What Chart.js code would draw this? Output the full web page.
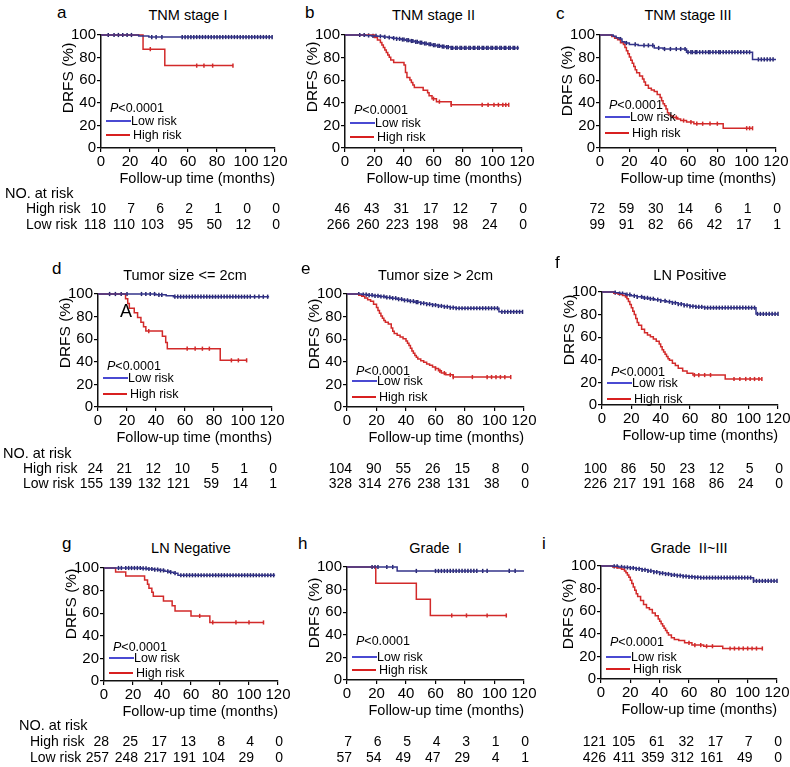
<!DOCTYPE html>
<html>
<head>
<meta charset="utf-8">
<script src="https://cdn.jsdelivr.net/npm/chart.js@4.4.0/dist/chart.umd.min.js"></script>
<style>
  body { margin: 0; background: #fff; }
  #fig { position: relative; width: 790px; height: 767px; overflow: hidden; font-family: 'Liberation Sans', Arial, Helvetica, sans-serif; color: #000; }
  #fig canvas { position: absolute; }
  .t { position: absolute; white-space: pre; line-height: 1; }
  .ln { position: absolute; height: 1.3px; }
</style>
</head>
<body>
<div id="fig"></div>
<script>
const xTicks = [0, 20, 40, 60, 80, 100, 120];
const yTicks = [0, 20, 40, 60, 80, 100];
const panelLetters = ['a', 'b', 'c', 'd', 'e', 'f', 'g', 'h', 'i'];
const panelTitles = ['TNM stage I', 'TNM stage II', 'TNM stage III', 'Tumor size <= 2cm', 'Tumor size > 2cm',
  'LN Positive', 'LN Negative', 'Grade  I', 'Grade  II~III'];

// a: TNM stage I
const aLowT = [0, 26, 33, 118];
const aLowS = [100, 99.2, 98.2, 98.2];
const aLowC = [5, 9, 12, 15, 18, 21, 35, 38, 42, 56, 58, 60, 62, 64, 66, 68, 70, 72, 74, 76, 78, 80, 82, 84, 86, 88, 90, 92, 94, 96, 98, 100, 102, 104, 106, 108, 110, 112, 114, 116, 118];
const aHighT = [0, 29, 44, 91];
const aHighS = [100, 87.5, 72.9, 72.9];
const aHighC = [34, 66, 71, 77, 91];
const aRiskHigh = [10, 7, 6, 2, 1, 0, 0];
const aRiskLow = [118, 110, 103, 95, 50, 12, 0];

// b: TNM stage II
const bLowT = [0, 14, 18, 22, 26, 29, 32, 35, 38, 41, 44, 47, 50, 53, 56, 59, 62, 65, 68, 72, 118];
const bLowS = [100, 99.6, 99.2, 98.8, 98.3, 97.8, 97.2, 96.6, 96, 95.4, 94.7, 94, 93.2, 92.5, 91.8, 91, 90.4, 89.8, 89.3, 88.6, 88.6];
const bLowC = [10, 13, 16, 19, 21, 24, 27, 30, 33, 35, 37, 39, 40, 42, 43, 45, 46, 48, 49, 51, 52, 54, 55, 57, 58, 60, 61, 63, 64, 66, 67, 69, 70, 72, 73, 75, 76, 78, 79, 81, 82, 84, 85, 87, 88, 90, 91, 93, 94, 96, 97, 99, 100, 102, 103, 105, 106, 108, 109, 111, 112, 114, 115, 117];
const bHighT = [0, 20, 22, 24, 25, 26, 27, 28, 29, 30, 31, 33, 40, 41, 42, 44, 45, 46, 47, 53, 56, 57, 59, 62, 72, 111];
const bHighS = [100, 97.8, 95.6, 93.4, 91.2, 89, 86.8, 84.6, 82.4, 80.2, 77.9, 75.7, 73.4, 66.8, 62.4, 60.2, 58, 55.8, 53.5, 51.2, 48.8, 46.3, 43.6, 41, 38.2, 38.2];
const bHighC = [60, 64, 72, 93, 97, 101, 104, 107, 109, 111];
const bRiskHigh = [46, 43, 31, 17, 12, 7, 0];
const bRiskLow = [266, 260, 223, 198, 98, 24, 0];

// c: TNM stage III
const cLowT = [0, 9, 11, 13, 15, 17, 20, 26, 37, 43, 59, 104, 120];
const cLowS = [100, 98.8, 97.6, 96.4, 94, 92.9, 91.7, 90.8, 88.5, 87.6, 84.8, 78.4, 78.4];
const cLowC = [14, 18, 24, 30, 33, 36, 40, 44, 48, 52, 55, 58, 60, 62, 63, 65, 66, 68, 70, 72, 74, 75, 77, 79, 81, 82, 84, 86, 88, 90, 92, 94, 96, 98, 100, 102, 108, 110, 112, 114, 116, 118];
const cHighT = [0, 8, 10, 12, 14, 16, 17, 18, 19, 20, 21, 22, 23, 24, 25, 27, 29, 30, 31, 33, 35, 37, 39, 41, 42, 43, 44, 45, 46, 47, 48, 50, 53, 55, 59, 64, 84, 104];
const cHighS = [100, 98.6, 97.2, 95.8, 93.1, 91.7, 88.9, 86.1, 83.3, 80.5, 77.7, 74.9, 72.1, 69.3, 66.5, 63.8, 61, 58.3, 55.5, 52.8, 51.4, 50, 47.3, 44.6, 41.9, 39.2, 37.5, 34.5, 31.1, 29.7, 28.4, 27, 25.6, 24.3, 22.9, 21.5, 17.5, 17.5];
const cHighC = [52, 57, 62, 66, 70, 75, 80, 100, 102, 104];
const cRiskHigh = [72, 59, 30, 14, 6, 1, 0];
const cRiskLow = [99, 91, 82, 66, 42, 17, 1];

// d: Tumor size <= 2cm
const dLowT = [0, 40, 47, 52, 118];
const dLowS = [100, 99.3, 98.4, 97.6, 97.6];
const dLowC = [8, 12, 16, 20, 30, 33, 36, 39, 42, 44, 53, 55, 57, 59, 61, 63, 65, 67, 69, 71, 73, 75, 77, 79, 81, 83, 85, 87, 89, 91, 93, 95, 97, 99, 101, 103, 105, 108, 111, 114, 117];
const dHighT = [0, 19, 20.5, 21.6, 25, 27.3, 29.6, 31.4, 33, 44.4, 46.7, 47.8, 84.3, 102.5];
const dHighS = [100, 95.8, 91.7, 87.5, 83.3, 79.2, 75, 71, 67.2, 62.7, 57.1, 51.6, 41.3, 41.3];
const dHighC = [35, 61.5, 67, 72, 76.8, 92, 96.8, 102.5];
const dRiskHigh = [24, 21, 12, 10, 5, 1, 0];
const dRiskLow = [155, 139, 132, 121, 59, 14, 1];

// e: Tumor size > 2cm
const eLowT = [0, 10, 14, 18, 22, 26, 30, 34, 38, 42, 46, 50, 54, 58, 62, 66, 70, 74, 103, 119];
const eLowS = [100, 99.5, 99, 98.4, 97.8, 97, 96.3, 95.4, 94.4, 93.6, 92.8, 91.8, 91, 90.2, 89.4, 88.7, 88, 87.4, 84.2, 84.2];
const eLowC = [8, 11, 13, 15, 17, 19, 21, 23, 25, 27, 29, 31, 33, 35, 37, 39, 41, 43, 45, 47, 48, 50, 52, 54, 56, 58, 60, 62, 64, 66, 68, 70, 72, 74, 76, 78, 80, 82, 84, 86, 88, 90, 92, 94, 96, 98, 100, 102, 105, 107, 109, 111, 113, 115, 117, 119];
const eHighT = [0, 8, 10, 12, 14, 16, 18, 20, 21, 22, 23, 24, 25, 26, 28, 30, 31, 32, 34, 36, 38, 40, 41, 42, 43, 44, 45, 46, 47, 48, 50, 52, 54, 56, 58, 60, 62, 64, 67, 72, 111];
const eHighS = [100, 99, 98, 96.5, 95, 93.5, 91, 88, 85.5, 83, 80.5, 78.5, 76.5, 75, 73.5, 70, 67, 65, 63.5, 62, 60.5, 58.5, 56.5, 54.5, 52, 49.5, 47.5, 45.5, 44, 42.5, 41, 39.5, 38, 37, 35.5, 34, 32, 30, 28.5, 26.5, 26.5];
const eHighC = [60, 63, 66, 70, 72, 85, 95, 98, 101, 104, 107, 111];
const eRiskHigh = [104, 90, 55, 26, 15, 8, 0];
const eRiskLow = [328, 314, 276, 238, 131, 38, 0];

// f: LN Positive
const fLowT = [0, 9, 12, 16, 20, 24, 28, 32, 36, 40, 44, 48, 52, 56, 60, 64, 70, 105, 120];
const fLowS = [100, 99.4, 98.6, 97.6, 96.6, 95.7, 94.8, 94, 93.2, 92.2, 91.4, 90.4, 89.3, 88.2, 87.3, 86.8, 86.1, 80.6, 80.6];
const fLowC = [9, 12, 14, 17, 19, 22, 24, 27, 29, 31, 33, 35, 38, 40, 43, 46, 48, 50, 52, 54, 56, 58, 60, 62, 64, 66, 68, 70, 72, 74, 76, 78, 80, 82, 84, 86, 88, 90, 92, 94, 96, 98, 100, 102, 104, 106, 108, 110, 112, 114, 116, 118, 120];
const fHighT = [0, 8, 11, 14, 16, 17, 18, 19, 20, 21, 22, 23, 24, 25, 27, 29, 31, 33, 35, 37, 39, 40, 41, 42, 43, 44, 45, 46, 48, 50, 52, 55, 58, 62, 84, 109];
const fHighS = [100, 99, 98, 97, 95.5, 94, 91.5, 89, 86, 83, 80, 76.5, 73, 70.5, 67, 64, 62, 60.5, 58.5, 56.5, 54, 51.5, 49, 47, 45, 43, 41, 39.5, 37, 35, 32.5, 30, 28, 26.5, 23, 23];
const fHighC = [63, 66, 70, 74, 90, 94, 98, 101, 104, 107, 109];
const fRiskHigh = [100, 86, 50, 23, 12, 5, 0];
const fRiskLow = [226, 217, 191, 168, 86, 24, 0];

// g: LN Negative
const gLowT = [0, 26, 30, 34, 38, 42, 45, 48, 51, 118];
const gLowS = [100, 99.6, 99.1, 98.6, 97.9, 97.1, 96.3, 95.4, 93.6, 93.6];
const gLowC = [10, 12, 15, 17, 19, 21, 23, 25, 27, 29, 31, 33, 35, 37, 39, 41, 44, 46, 49, 53, 55, 57, 59, 61, 63, 65, 67, 69, 71, 73, 75, 77, 79, 81, 83, 85, 87, 89, 91, 93, 95, 97, 99, 101, 103, 105, 107, 109, 111, 113, 115, 117];
const gHighT = [0, 8, 15, 28, 30, 31, 33, 34, 41, 47, 49, 60, 73, 110];
const gHighS = [100, 96.4, 92.9, 89.3, 85.7, 82.1, 78.5, 75, 70.8, 66.5, 62, 57.6, 51.8, 51.8];
const gHighC = [66, 75, 91, 100, 110];
const gRiskHigh = [28, 25, 17, 13, 8, 4, 0];
const gRiskLow = [257, 248, 217, 191, 104, 29, 0];

// h: Grade I
const hLowT = [0, 34, 120];
const hLowS = [100, 96.5, 96.5];
const hLowC = [17, 19, 21, 27, 31, 47, 60, 62, 64, 66, 68, 70, 72, 74, 76, 78, 80, 82, 84, 86, 88, 92, 95, 110, 114];
const hHighT = [0, 19.5, 47, 56.5, 108];
const hHighS = [100, 85.7, 71.4, 57.1, 57.1];
const hHighC = [71, 81, 95, 108];
const hRiskHigh = [7, 6, 5, 4, 3, 1, 0];
const hRiskLow = [57, 54, 49, 47, 29, 4, 1];

// i: Grade II~III
const iLowT = [0, 8, 12, 16, 20, 24, 28, 32, 36, 40, 44, 48, 52, 56, 60, 64, 68, 104, 120];
const iLowS = [100, 99.7, 99.2, 98.7, 98.2, 97.5, 96.6, 95.6, 94.6, 93.6, 92.9, 92.1, 91.5, 90.9, 90.4, 90, 89.7, 86.8, 86.8];
const iLowC = [9, 11, 14, 16, 18, 20, 22, 24, 26, 28, 30, 32, 34, 36, 38, 40, 42, 44, 46, 48, 50, 52, 54, 56, 58, 60, 62, 64, 66, 68, 70, 72, 74, 76, 78, 80, 82, 84, 86, 88, 90, 92, 94, 96, 98, 100, 102, 104, 106, 108, 110, 112, 114, 116, 118, 120];
const iHighT = [0, 8, 11, 14, 16, 17, 18, 19, 20, 21, 22, 23, 24, 25, 27, 29, 31, 33, 35, 37, 39, 40, 41, 42, 43, 44, 45, 46, 48, 50, 53, 57, 62, 70, 83, 110];
const iHighS = [100, 99.2, 98.3, 97.1, 95.5, 94, 92, 90, 87.5, 84.5, 81.5, 78.5, 75.5, 73, 69.5, 66, 63, 61.5, 58.5, 56, 53, 51, 49, 47, 45, 43, 41, 39, 36.5, 35, 34, 32, 30, 29, 27, 27];
const iHighC = [60, 64, 68, 72, 76, 88, 91, 94, 97, 100, 103, 106, 110];
const iRiskHigh = [121, 105, 61, 32, 17, 7, 0];
const iRiskLow = [426, 411, 359, 312, 161, 49, 0];

const panels = [
  [aLowT, aLowS, aLowC, aHighT, aHighS, aHighC, aRiskHigh, aRiskLow],
  [bLowT, bLowS, bLowC, bHighT, bHighS, bHighC, bRiskHigh, bRiskLow],
  [cLowT, cLowS, cLowC, cHighT, cHighS, cHighC, cRiskHigh, cRiskLow],
  [dLowT, dLowS, dLowC, dHighT, dHighS, dHighC, dRiskHigh, dRiskLow],
  [eLowT, eLowS, eLowC, eHighT, eHighS, eHighC, eRiskHigh, eRiskLow],
  [fLowT, fLowS, fLowC, fHighT, fHighS, fHighC, fRiskHigh, fRiskLow],
  [gLowT, gLowS, gLowC, gHighT, gHighS, gHighC, gRiskHigh, gRiskLow],
  [hLowT, hLowS, hLowC, hHighT, hHighS, hHighC, hRiskHigh, hRiskLow],
  [iLowT, iLowS, iLowC, iHighT, iHighS, iHighC, iRiskHigh, iRiskLow]
];

// layout (pixels)
const plotL = [101, 345, 600, 98, 347, 602, 104, 347, 601];
const plotT = [33, 33, 33, 292, 292, 290, 566, 565, 564];
const plotW = [174, 177, 176, 174, 177, 176, 174, 177, 176];
const plotH = 115;
const legendY = [[75, 88, 102], [77, 90, 104], [72, 84, 100], [74, 86, 102], [79, 89, 105], [82, 93, 109], [81, 92, 107], [76, 92, 105], [78, 93, 105]];
const letterPos = [[57, 12], [305, 12], [556, 13], [52, 268], [301, 268], [555, 262], [62, 543], [298, 543], [542, 543]];
const titleY = [15, 15, 15, 275, 275, 275, 548, 548, 548];
const yTitleOff = [45, 44, 48, 41, 42, 40, 38, 48, 50];
const riskRowY = [[193, 208, 224], [453, 468, 483], [725, 741, 757]];
const riskLabelX = [[5, 26], [3, 23], [19, 30]];

const FONT = "'Liberation Sans', Arial, Helvetica, sans-serif";
const LOW_LINE = '#34348a', LOW_CENS = '#23236a', HIGH_LINE = '#d22a2a';
const fig = document.getElementById('fig');

function addText(html, x, y, size, align) {
  const d = document.createElement('div');
  d.className = 't';
  d.innerHTML = html;
  d.style.left = x + 'px';
  d.style.top = y + 'px';
  d.style.fontSize = size + 'px';
  const tx = align === 'center' ? '-50%' : align === 'right' ? '-100%' : '0';
  d.style.transform = 'translate(' + tx + ',-50%)';
  fig.appendChild(d);
  return d;
}

function addLine(x1, x2, y, color) {
  const d = document.createElement('div');
  d.className = 'ln';
  d.style.left = x1 + 'px';
  d.style.width = (x2 - x1) + 'px';
  d.style.top = (y - 0.6) + 'px';
  d.style.background = color;
  fig.appendChild(d);
}

function survAt(T, S, t) {
  let v = S[0];
  for (let i = 0; i < T.length; i++) if (T[i] <= t) v = S[i];
  return v;
}

function curve(T, S, color) {
  return {
    data: T.map((t, i) => ({ x: t, y: S[i] })),
    borderColor: color, borderWidth: 1.5, stepped: true,
    pointRadius: 0, fill: false, clip: false
  };
}

function censor(T, S, C, color) {
  return {
    data: C.map(t => ({ x: t, y: survAt(T, S, t) })),
    showLine: false, pointStyle: 'line', rotation: 90,
    pointRadius: 2.1, borderColor: color, pointBorderWidth: 1.5, borderWidth: 1.5, clip: false
  };
}

const YW = 50, PADT = 8, PADR = 16, XH = 28;

panels.forEach((p, k) => {
  const [lowT, lowS, lowC, highT, highS, highC, riskHigh, riskLow] = p;
  const L = plotL[k], T = plotT[k], W = plotW[k];
  const cv = document.createElement('canvas');
  const cw = YW + W + PADR, ch = PADT + plotH + XH;
  cv.width = cw; cv.height = ch;
  cv.style.width = cw + 'px'; cv.style.height = ch + 'px';
  cv.style.left = (L - YW) + 'px'; cv.style.top = (T - PADT) + 'px';
  fig.appendChild(cv);

  const axisCommon = {
    type: 'linear',
    grid: { drawOnChartArea: false, drawTicks: true, tickLength: 4, color: '#000', lineWidth: 1.2 },
    border: { display: true, color: '#111', width: 1.5 },
    ticks: { autoSkip: false, maxRotation: 0, color: '#000', font: { family: FONT, size: 15 } }
  };

  const chart = new Chart(cv.getContext('2d'), {
    type: 'line',
    data: {
      datasets: [
        curve(lowT, lowS, LOW_LINE),
        curve(highT, highS, HIGH_LINE),
        censor(lowT, lowS, lowC, LOW_CENS),
        censor(highT, highS, highC, HIGH_LINE)
      ]
    },
    options: {
      responsive: false, animation: false, events: [],
      layout: { padding: { top: PADT, right: PADR, left: 0, bottom: 0 } },
      plugins: { legend: { display: false }, tooltip: { enabled: false } },
      scales: {
        x: Object.assign({}, axisCommon, {
          min: 0, max: 120,
          afterBuildTicks: s => { s.ticks = xTicks.map(v => ({ value: v })); },
          afterFit: s => { s.height = XH; },
          ticks: Object.assign({}, axisCommon.ticks, { padding: 1 })
        }),
        y: Object.assign({}, axisCommon, {
          min: 0, max: 100,
          afterBuildTicks: s => { s.ticks = yTicks.map(v => ({ value: v })); },
          afterFit: s => { s.width = YW; },
          ticks: Object.assign({}, axisCommon.ticks, { padding: 1 })
        })
      }
    }
  });

  // letter, title, axis titles
  addText(panelLetters[k], letterPos[k][0], letterPos[k][1], 17, 'left');
  addText(panelTitles[k], L + W / 2, titleY[k], 14.5, 'center');
  addText('Follow-up time (months)', L + W, T + plotH + 30, 14.5, 'right');
  const yt = addText('DRFS (%)', L - 33, T + yTitleOff[k], 15.5, 'left');
  yt.style.transformOrigin = '0 0';
  yt.style.transform = 'rotate(-90deg) translate(-50%,-50%)';

  // legend inside the plot
  const ly = legendY[k];
  addText('<i>P</i>&lt;0.0001', L + 9, T + ly[0], 12.5, 'left');
  addLine(L + 5, L + 30, T + ly[1], '#4a4ad2');
  addText('Low risk', L + 30, T + ly[1], 12.5, 'left');
  addLine(L + 5, L + 29, T + ly[2], '#d82020');
  addText('High risk', L + 32, T + ly[2], 12.5, 'left');

  if (k === 3) addText('A', L + 28, T + 19, 18, 'center');

  // number at risk table, columns placed on the x scale
  const row = Math.floor(k / 3), col = k % 3;
  const ry = riskRowY[row];
  if (col === 0) {
    addText('NO. at risk', riskLabelX[row][0], ry[0], 14.5, 'left');
    addText('High risk', riskLabelX[row][1], ry[1], 14, 'left');
    addText('Low risk', riskLabelX[row][1], ry[2], 14, 'left');
  }
  xTicks.forEach((t, j) => {
    const px = chart.scales.x.getPixelForValue(t) + (L - YW);
    addText(String(riskHigh[j]), px + 5, ry[1], 14, 'right');
    addText(String(riskLow[j]), px + 5, ry[2], 14, 'right');
  });
});
</script>
</body>
</html>
